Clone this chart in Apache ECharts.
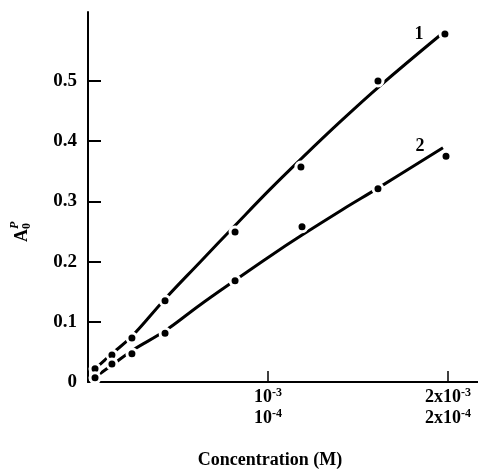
<!DOCTYPE html>
<html>
<head>
<meta charset="utf-8">
<script src="https://cdn.jsdelivr.net/npm/echarts@6/dist/echarts.min.js"></script>
<style>
  html, body { margin: 0; padding: 0; background: #fff; }
  #chart { width: 478px; height: 469px; }
</style>
</head>
<body>
<div id="chart"></div>
<script>
// Concentration in units of 1e-3 M (upper scale); lower scale is 10x smaller.
const xTicks = [1, 2];
const xTickLabelsTop = [['10', '-3'], ['2x10', '-3']];
const xTickLabelsBottom = [['10', '-4'], ['2x10', '-4']];
const yTicks = [0, 0.1, 0.2, 0.3, 0.4, 0.5];

// Measured points
const conc1 = [0.039, 0.133, 0.244, 0.428, 0.817, 1.183, 1.611, 1.983];
const absorb1 = [0.022, 0.045, 0.073, 0.135, 0.249, 0.357, 0.500, 0.578];
const conc2 = [0.039, 0.133, 0.244, 0.428, 0.817, 1.189, 1.611, 1.989];
const absorb2 = [0.007, 0.030, 0.047, 0.081, 0.168, 0.258, 0.321, 0.375];

// Fitted curves
const fitConc1 = [0.039, 0.133, 0.244, 0.428, 0.622, 0.817, 1.011, 1.178, 1.400, 1.622, 1.956];
const fitAbs1 = [0.022, 0.047, 0.076, 0.138, 0.199, 0.260, 0.320, 0.369, 0.432, 0.492, 0.576];
const fitConc2 = [0.039, 0.133, 0.244, 0.428, 0.622, 0.817, 1.011, 1.189, 1.417, 1.611, 1.972];
const fitAbs2 = [0.008, 0.028, 0.052, 0.085, 0.128, 0.169, 0.209, 0.244, 0.287, 0.322, 0.389];

const curveNames = ['1', '2'];

const FONT = '"Liberation Serif", "DejaVu Serif", serif';

function pairs(xs, ys) { return xs.map((x, i) => [x, ys[i]]); }

function pointsWithLabel(xs, ys, name, offset) {
  return pairs(xs, ys).map((p, i) => {
    if (i !== xs.length - 1) return p;
    return {
      value: p,
      label: {
        show: true, formatter: name, position: 'left', distance: 15, offset: offset,
        color: '#000', fontFamily: FONT, fontWeight: 'bold', fontSize: 18
      }
    };
  });
}

const chart = echarts.init(document.getElementById('chart'), null, { renderer: 'canvas' });

const pointStyle = { color: '#000', opacity: 1, borderColor: '#fff', borderWidth: 3 };

chart.setOption({
  animation: false,
  backgroundColor: '#fff',
  grid: { left: 88, right: 0, top: 12, bottom: 87 },
  xAxis: {
    type: 'value', min: 0, max: 2.1667,
    splitLine: { show: false },
    axisLine: { lineStyle: { color: '#000', width: 2 } },
    axisTick: { inside: true, length: 11, lineStyle: { color: '#000', width: 1.5 }, customValues: xTicks },
    axisLabel: {
      customValues: xTicks,
      margin: 5,
      formatter: function (v) {
        const i = xTicks.indexOf(v);
        if (i < 0) return '';
        const t = xTickLabelsTop[i], b = xTickLabelsBottom[i];
        return '{n|' + t[0] + '}{s|' + t[1] + '}\n{n|' + b[0] + '}{s|' + b[1] + '}';
      },
      rich: {
        n: { fontFamily: FONT, fontWeight: 'bold', fontSize: 18, color: '#000', lineHeight: 21 },
        s: { fontFamily: FONT, fontWeight: 'bold', fontSize: 12, color: '#000', lineHeight: 12, verticalAlign: 'top' }
      }
    }
  },
  yAxis: {
    type: 'value', min: 0, max: 0.6146,
    splitLine: { show: false },
    axisLine: { lineStyle: { color: '#000', width: 2 } },
    axisTick: { inside: true, length: 13, lineStyle: { color: '#000', width: 2 }, customValues: yTicks.slice(1) },
    axisLabel: {
      customValues: yTicks,
      margin: 11,
      color: '#000', fontFamily: FONT, fontWeight: 'bold', fontSize: 19,
      formatter: v => (v === 0 ? '0' : v.toFixed(1))
    }
  },
  graphic: [
    {
      type: 'text', x: 270, y: 460,
      style: { text: 'Concentration (M)', fill: '#000', font: 'bold 18px ' + FONT, align: 'center', verticalAlign: 'middle' }
    },
    {
      type: 'group', x: 22, y: 242, rotation: Math.PI / 2,
      children: [
        { type: 'text', x: 0, y: 0, style: { text: 'A', fill: '#000', font: 'bold 18px ' + FONT, align: 'left', verticalAlign: 'middle' } },
        { type: 'text', x: 13, y: 5, style: { text: '0', fill: '#000', font: 'bold 12px ' + FONT, align: 'left', verticalAlign: 'middle' } },
        { type: 'text', x: 13, y: -7, style: { text: 'P', fill: '#000', font: 'italic bold 12px ' + FONT, align: 'left', verticalAlign: 'middle' } }
      ]
    }
  ],
  series: [
    {
      type: 'line', name: 'fit1', data: pairs(fitConc1, fitAbs1), smooth: 0.4,
      showSymbol: false, symbol: 'none', lineStyle: { color: '#000', width: 3 }, z: 2
    },
    {
      type: 'line', name: 'fit2', data: pairs(fitConc2, fitAbs2), smooth: 0.4,
      showSymbol: false, symbol: 'none', lineStyle: { color: '#000', width: 3 }, z: 2
    },
    {
      type: 'scatter', name: curveNames[0], data: pointsWithLabel(conc1, absorb1, curveNames[0], [0, 0]),
      symbol: 'circle', symbolSize: 10, itemStyle: pointStyle, z: 3
    },
    {
      type: 'scatter', name: curveNames[1], data: pointsWithLabel(conc2, absorb2, curveNames[1], [0, -10]),
      symbol: 'circle', symbolSize: 10, itemStyle: pointStyle, z: 3
    }
  ]
});
</script>
</body>
</html>
